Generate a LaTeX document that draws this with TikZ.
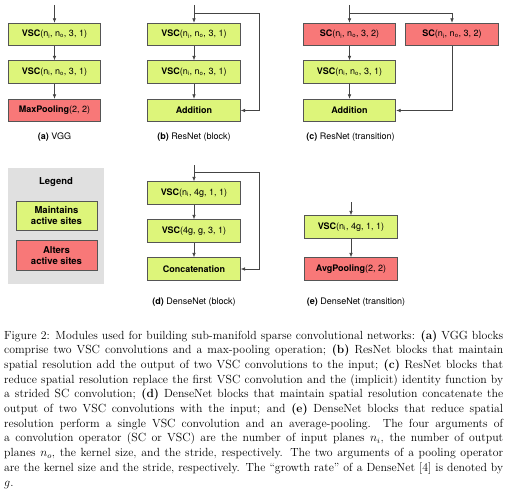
\documentclass[tikz,border=0pt]{standalone}
\usepackage{fontspec}
\setsansfont{TeX Gyre Heros}
\usetikzlibrary{arrows.meta}
\definecolor{grnfill}{HTML}{DDF57A}
\definecolor{redfill}{HTML}{F87878}
\definecolor{linegray}{HTML}{555555}
\definecolor{arrowgray}{HTML}{444444}
\definecolor{legendgray}{HTML}{E0E0E0}
\tikzset{
  blk/.style={draw=linegray, line width=0.7pt, minimum width=92.5pt, minimum height=22.5pt, inner sep=0pt, font=\sffamily\fontsize{9}{10}\selectfont},
  grnbox/.style={blk, fill=grnfill},
  redbox/.style={blk, fill=redfill},
  legbox/.style={blk, minimum width=81pt, minimum height=29.5pt, align=center, font=\sffamily\bfseries\fontsize{9.5}{11}\selectfont},
  arr/.style={-{Latex[length=4.5pt,width=3.5pt]}, draw=arrowgray, line width=0.7pt},
  lbl/.style={font=\sffamily\fontsize{9}{10}\selectfont}
}
\newcommand{\sub}[1]{\textsubscript{#1}}
\begin{document}
\begin{tikzpicture}[x=1pt,y=-1pt]
\useasboundingbox (0,0) rectangle (508,492);
% (a) VGG
\coordinate (a0) at (54.5,5);
\node[grnbox] (a1) at (54.5,34.5) {\textbf{VSC}(n\sub{i}, n\sub{o}, 3, 1)};
\node[grnbox] (a2) at (54.5,72) {\textbf{VSC}(n\sub{i}, n\sub{o}, 3, 1)};
\node[redbox] (a3) at (54.5,110.5) {\textbf{MaxPooling}(2, 2)};
\draw[arr] (a0) -- (a1);
\draw[arr] (a1) -- (a2);
\draw[arr] (a2) -- (a3);
\node[lbl] (la) at (54.5,137) {\textbf{(a)} VGG};
% (b) ResNet block
\coordinate (b0) at (194,5);
\coordinate (bs) at (194,13);
\coordinate (br) at (259,13);
\node[grnbox] (b1) at (194,34.5) {\textbf{VSC}(n\sub{i}, n\sub{o}, 3, 1)};
\node[grnbox] (b2) at (194,72) {\textbf{VSC}(n\sub{i}, n\sub{o}, 3, 1)};
\node[grnbox] (b3) at (194,110.5) {\textbf{Addition}};
\draw[arr] (b0) -- (b1);
\draw[arr] (b1) -- (b2);
\draw[arr] (b2) -- (b3);
\draw[arr] (bs) -- (br) |- (b3.east);
\node[lbl] (lb) at (194,137) {\textbf{(b)} ResNet (block)};
% (c) ResNet transition
\coordinate (c0) at (349.5,5);
\coordinate (cs) at (349.5,13);
\coordinate (cr) at (452,13);
\node[redbox] (c1) at (349.5,34.5) {\textbf{SC}(n\sub{i}, n\sub{o}, 3, 2)};
\node[redbox] (cR) at (452,34.5) {\textbf{SC}(n\sub{i}, n\sub{o}, 3, 2)};
\node[grnbox] (c2) at (349.5,72) {\textbf{VSC}(n\sub{i}, n\sub{o}, 3, 1)};
\node[grnbox] (c3) at (349.5,110.5) {\textbf{Addition}};
\draw[arr] (c0) -- (c1);
\draw[arr] (cs) -- (cr) -- (cR);
\draw[arr] (c1) -- (c2);
\draw[arr] (c2) -- (c3);
\draw[arr] (cR) |- (c3.east);
\node[lbl] (lc) at (350.5,137) {\textbf{(c)} ResNet (transition)};
% Legend
\node[fill=legendgray, minimum width=96pt, minimum height=116pt, inner sep=0pt] (leg) at (56,226) {};
\node[font=\sffamily\bfseries\fontsize{9.5}{11}\selectfont] (legt) at (56,182) {Legend};
\node[legbox, fill=grnfill] (lg1) at (56.5,216) {Maintains\\active sites};
\node[legbox, fill=redfill] (lg2) at (56.5,255.5) {Alters\\active sites};
% (d) DenseNet block
\coordinate (d0) at (194,165);
\coordinate (ds) at (194,172);
\coordinate (dr) at (259,172);
\node[grnbox] (d1) at (194,193) {\textbf{VSC}(n\sub{i}, 4g, 1, 1)};
\node[grnbox] (d2) at (194,231) {\textbf{VSC}(4g, g, 3, 1)};
\node[grnbox] (d3) at (194,269) {\textbf{Concatenation}};
\draw[arr] (d0) -- (d1);
\draw[arr] (d1) -- (d2);
\draw[arr] (d2) -- (d3);
\draw[arr] (ds) -- (dr) |- (d3.east);
\node[lbl] (ld) at (194,302) {\textbf{(d)} DenseNet (block)};
% (e) DenseNet transition
\coordinate (e0) at (351,202);
\node[grnbox] (e1) at (351,227) {\textbf{VSC}(n\sub{i}, 4g, 1, 1)};
\node[redbox] (e2) at (351,269) {\textbf{AvgPooling}(2, 2)};
\draw[arr] (e0) -- (e1);
\draw[arr] (e1) -- (e2);
\node[lbl] (le) at (356,302) {\textbf{(e)} DenseNet (transition)};
% Caption
\node[anchor=north west, inner sep=0pt, text width=499pt, align=justify,
      font=\rmfamily\fontsize{11.8}{14.7}\selectfont] (cap) at (4,330) {%
Figure 2: Modules used for building sub-manifold sparse convolutional networks: \textbf{(a)} VGG blocks\linebreak
comprise two VSC convolutions and a max-pooling operation; \textbf{(b)} ResNet blocks that maintain\linebreak
spatial resolution add the output of two VSC convolutions to the input; \textbf{(c)} ResNet blocks that\linebreak
reduce spatial resolution replace the first VSC convolution and the (implicit) identity function by\linebreak
a strided SC convolution; \textbf{(d)} DenseNet blocks that maintain spatial resolution concatenate the\linebreak
output of two VSC convolutions with the input; and \textbf{(e)} DenseNet blocks that reduce spatial\linebreak
resolution perform a single VSC convolution and an average-pooling. The four arguments of\linebreak
a convolution operator (SC or VSC) are the number of input planes $n_i$, the number of output\linebreak
planes $n_o$, the kernel size, and the stride, respectively. The two arguments of a pooling operator\linebreak
are the kernel size and the stride, respectively. The ``growth rate'' of a DenseNet [4] is denoted by\linebreak
$g$.};
\end{tikzpicture}
\end{document}
